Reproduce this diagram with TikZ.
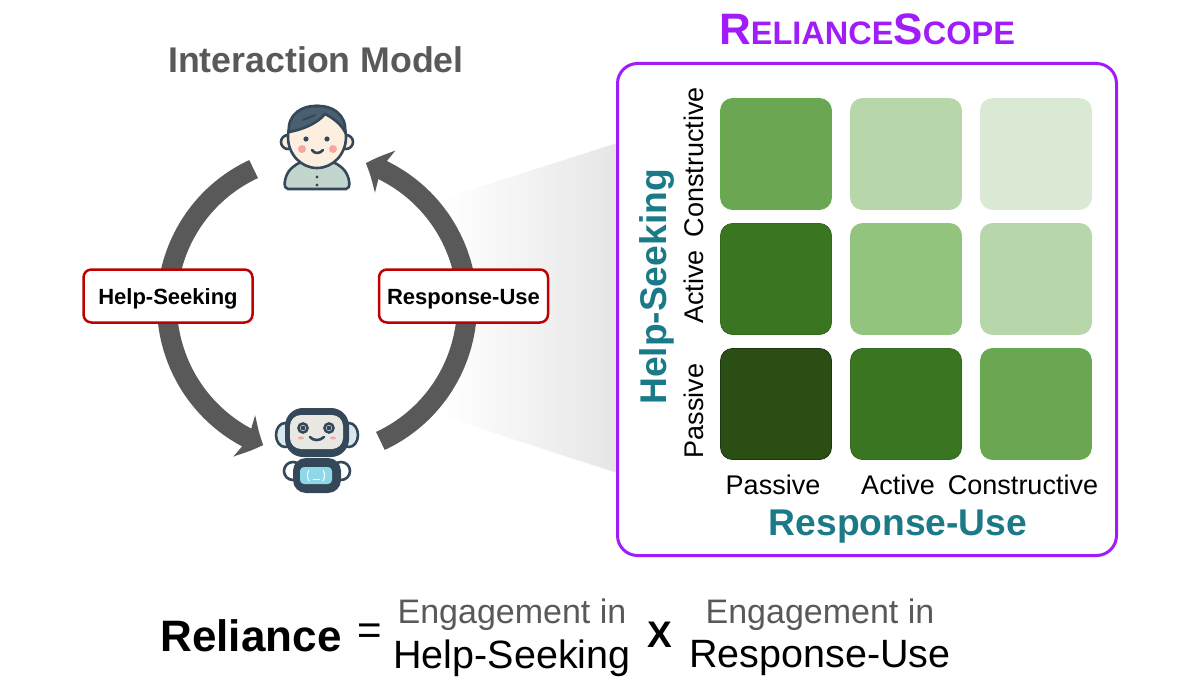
\documentclass[tikz,border=0pt]{standalone}
\usepackage{fontspec}
\setmainfont{Liberation Sans}
\usetikzlibrary{positioning}
\usetikzlibrary{arrows.meta}
\usetikzlibrary{bending}

\definecolor{titleGrey}{HTML}{595959}
\definecolor{loopGrey}{HTML}{595959}
\definecolor{boxRed}{HTML}{C00000}
\definecolor{scopePurple}{HTML}{A01CF8}
\definecolor{axisTeal}{HTML}{1B7A87}
\definecolor{greenA}{HTML}{DAE9D3}
\definecolor{greenB}{HTML}{B7D7AB}
\definecolor{greenC}{HTML}{93C47D}
\definecolor{greenD}{HTML}{6BA653}
\definecolor{greenE}{HTML}{3A7622}
\definecolor{greenF}{HTML}{2A4E14}
\definecolor{iconDark}{HTML}{34485A}
\definecolor{hairSlate}{HTML}{4A5F70}
\definecolor{skinTone}{HTML}{FDEFE0}
\definecolor{shirtTone}{HTML}{C3D6CD}
\definecolor{cheekPink}{HTML}{F6A8A0}
\definecolor{screenGrey}{HTML}{E9E7E2}
\definecolor{screenBlue}{HTML}{8FD8E8}
\definecolor{earBlue}{HTML}{D8E8EE}

\begin{document}
\begin{tikzpicture}
    [x=1pt, y=-1pt,
     loopArrow/.style={draw=loopGrey, line width=20pt, -{Stealth[length=21pt, width=46pt, inset=5pt, bend]}},
     stageBox/.style={draw=boxRed, fill=white, line width=2.5pt, rounded corners=8pt, minimum width=169pt, minimum height=53pt, inner sep=0pt, text height=16pt, text depth=0pt, font=\fontsize{22}{24}\selectfont\bfseries},
     cellBox/.style={rounded corners=12pt, minimum size=111pt, inner sep=0pt, line width=0.8pt},
     levelLabel/.style={font=\fontsize{27}{30}\selectfont, inner sep=0pt},
     axisLabel/.style={text=axisTeal, font=\fontsize{37.2}{40}\selectfont\bfseries, inner sep=0pt},
     engageLabel/.style={text=titleGrey, font=\fontsize{34}{38}\selectfont, inner sep=0pt},
     partLabel/.style={font=\fontsize{39.5}{44}\selectfont, inner sep=0pt},
     iconLine/.style={draw=iconDark, line width=2.6pt},
    ]

    \useasboundingbox (0,0) rectangle (1200,690);

    % wedge towards the grid
    \coordinate (wedgeTopLeft) at (442,199);
    \coordinate (wedgeTopRight) at (617,143);
    \coordinate (wedgeBottomRight) at (617,473);
    \coordinate (wedgeBottomLeft) at (442,416);
    \shade[left color=white, right color=black!10] (wedgeTopLeft) -- (wedgeTopRight) -- (wedgeBottomRight) -- (wedgeBottomLeft) -- cycle;

    % interaction loop
    \node[text=titleGrey, font=\fontsize{35.7}{38}\selectfont\bfseries, inner sep=0pt] (modelTitle) at (316,60) {Interaction Model};
    \coordinate (loopCenter) at (317,305);
    \coordinate (seekStart) at ([shift={(245:150)}]loopCenter);
    \coordinate (useStart) at ([shift={(65:150)}]loopCenter);
    \draw[loopArrow] (seekStart) arc[start angle=245, end angle=111, radius=150];
    \draw[loopArrow] (useStart) arc[start angle=65, end angle=-71, radius=150];
    \node[stageBox] (seekBox) at (168,296) {Help-Seeking};
    \node[stageBox] (useBox) at (463.5,296) {Response-Use};

    % human
    \coordinate (human) at (317,140);
    \begin{scope}[shift={(human)}]
        \draw[iconLine, fill=shirtTone] (-29,49) .. controls (-34,49) and (-33,38) .. (-28,31) .. controls (-23,25) and (-17,22) .. (-14,22) -- (14,22) .. controls (17,22) and (23,25) .. (28,31) .. controls (33,38) and (34,49) .. (29,49) -- cycle;
        \fill[cheekPink!70!skinTone] (-10,22) -- (10,22) .. controls (6,28) and (-6,28) .. (-10,22) -- cycle;
        \draw[iconLine, fill=skinTone] (-29,2) circle[radius=7];
        \draw[iconLine, fill=skinTone] (29,2) circle[radius=7];
        \draw[iconLine, fill=skinTone] (0,-3) ellipse[x radius=29, y radius=31];
        \draw[iconLine, fill=hairSlate] (-28,-8) .. controls (-30,-26) and (-14,-35) .. (0,-34) .. controls (14,-35) and (30,-26) .. (28,-8) .. controls (24,-16) and (16,-22) .. (8,-26) .. controls (0,-16) and (-16,-10) .. (-28,-8) -- cycle;
        \draw[iconDark, line width=2pt, line cap=round] (-14,-20) -- (-2,-25);
        \fill[iconDark] (-11,-1) circle[radius=2.6];
        \fill[iconDark] (10,-1) circle[radius=2.6];
        \fill[cheekPink] (-15,9) circle[radius=4];
        \fill[cheekPink] (16,9) circle[radius=4];
        \draw[iconLine, line cap=round] (-5,10) .. controls (-3,14) and (3,14) .. (6,10);
        \fill[iconDark] (0,37) circle[radius=1.7];
        \fill[iconDark] (0,45) circle[radius=1.7];
    \end{scope}

    % robot
    \coordinate (robot) at (317,435);
    \begin{scope}[shift={(robot)}]
        \draw[iconLine, fill=earBlue] (-32,0) ellipse[x radius=9, y radius=12];
        \draw[iconLine, fill=earBlue] (32,0) ellipse[x radius=9, y radius=12];
        \draw[iconLine, fill=white] (-24,36) circle[radius=9];
        \draw[iconLine, fill=white] (24,36) circle[radius=9];
        \fill[iconDark, rounded corners=13pt] (-24,23) rectangle (24,58);
        \fill[screenBlue, rounded corners=4pt] (-17,32) rectangle (15,49);
        \fill[iconDark, rounded corners=18pt] (-32,-27) rectangle (32,22);
        \fill[screenGrey, rounded corners=11pt] (-27,-20) rectangle (26,14);
        \draw[white, line width=1pt] (-8,35) .. controls (-10,38) and (-10,43) .. (-8,46);
        \draw[white, line width=1pt] (6,35) .. controls (8,38) and (8,43) .. (6,46);
        \draw[white, line width=1pt] (-4,44) -- (3,44);
        \draw[iconLine, fill=white] (-14,-7) circle[radius=4.5];
        \draw[iconLine, fill=white] (12,-7) circle[radius=4.5];
        \fill[iconDark] (-14,-7) circle[radius=2.4];
        \fill[iconDark] (12,-7) circle[radius=2.4];
        \fill[cheekPink] (-16,3) ellipse[x radius=3, y radius=1.5];
        \fill[cheekPink] (16,3) ellipse[x radius=3, y radius=1.5];
        \draw[iconLine, line cap=round] (-7,2) .. controls (-4,6) and (3,6) .. (7,2);
    \end{scope}

    % reliance scope panel
    \node[text=scopePurple, inner sep=0pt, font=\bfseries] (scopeTitle) at (867,29)
        {\fontsize{44}{48}\selectfont R\fontsize{32.5}{48}\selectfont ELIANCE\fontsize{44}{48}\selectfont S\fontsize{32.5}{48}\selectfont COPE};
    \node[draw=scopePurple, line width=3pt, rounded corners=20pt, minimum width=499pt, minimum height=492pt, inner sep=0pt] (scopeBox) at (867,309.5) {};

    % grid cells, rows from the top
    \node[cellBox, fill=greenD, draw=greenD!90!green] (cellAa) at (776,154) {};
    \node[cellBox, fill=greenB, draw=greenB] (cellAb) [right=18.2pt of cellAa] {};
    \node[cellBox, fill=greenA, draw=greenA] (cellAc) [right=18.2pt of cellAb] {};
    \node[cellBox, fill=greenE, draw=greenE!90!black] (cellBa) [below=13.2pt of cellAa] {};
    \node[cellBox, fill=greenC, draw=greenC] (cellBb) [right=18.2pt of cellBa] {};
    \node[cellBox, fill=greenB, draw=greenB] (cellBc) [right=18.2pt of cellBb] {};
    \node[cellBox, fill=greenF, draw=greenF!70!black] (cellCa) [below=13.2pt of cellBa] {};
    \node[cellBox, fill=greenE, draw=greenE!90!black] (cellCb) [right=18.2pt of cellCa] {};
    \node[cellBox, fill=greenD, draw=greenD!90!green] (cellCc) [right=18.2pt of cellCb] {};

    \node[levelLabel, rotate=90] (seekConstructive) at (694,162) {Constructive};
    \node[levelLabel, rotate=90] (seekActive) at (694,287) {Active};
    \node[levelLabel, rotate=90] (seekPassive) at (694,411) {Passive};
    \node[levelLabel] (usePassive) at (773,485) {Passive};
    \node[levelLabel] (useActive) at (898,485) {Active};
    \node[levelLabel] (useConstructive) at (1023,485) {Constructive};
    \node[axisLabel, rotate=90] (seekAxis) at (657,287) {Help-Seeking};
    \node[axisLabel] (useAxis) at (898,527) {Response-Use};

    % formula
    \node[font=\fontsize{44}{48}\selectfont\bfseries, inner sep=0pt] (relianceWord) at (251,636) {Reliance};
    \node[font=\fontsize{42}{46}\selectfont, inner sep=0pt] (equalsSign) at (370,634) {=};
    \node[engageLabel] (engageSeek) at (512,615) {Engagement in};
    \node[partLabel] (partSeek) at (512,658) {Help-Seeking};
    \node[font=\fontsize{37}{40}\selectfont\bfseries, inner sep=0pt] (timesSign) at (660,635) {X};
    \node[engageLabel] (engageUse) at (820,615) {Engagement in};
    \node[partLabel] (partUse) at (820,658) {Response-Use};

\end{tikzpicture}
\end{document}
